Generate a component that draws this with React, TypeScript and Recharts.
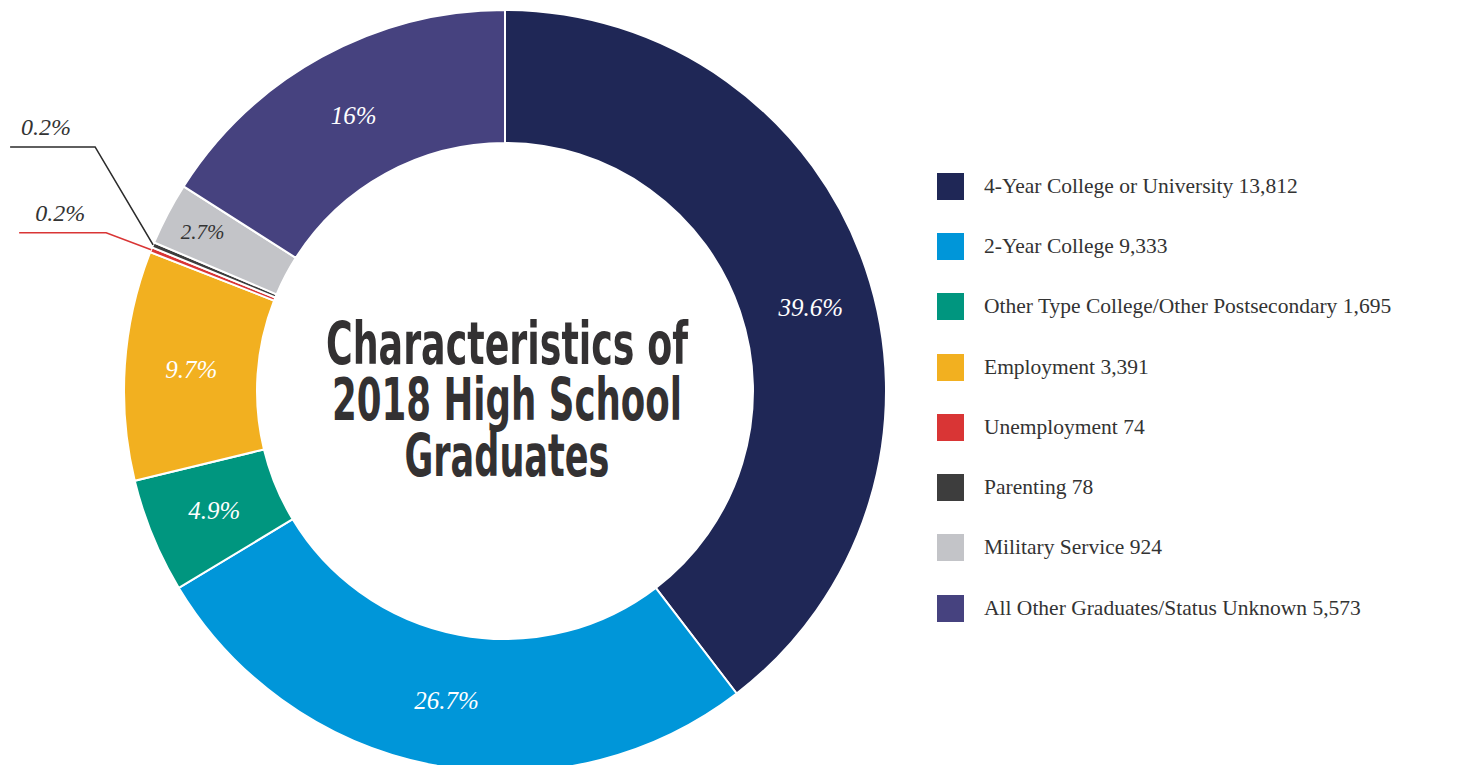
import { PieChart, Pie, Cell, Legend } from "recharts";

const categories = [
  "4-Year College or University",
  "2-Year College",
  "Other Type College/Other Postsecondary",
  "Employment",
  "Unemployment",
  "Parenting",
  "Military Service",
  "All Other Graduates/Status Unknown",
];
const counts = [13812, 9333, 1695, 3391, 74, 78, 924, 5573];
const pctLabels = ["39.6%", "26.7%", "4.9%", "9.7%", "0.2%", "0.2%", "2.7%", "16%"];
const colors = ["#1f2756", "#0096d9", "#00967f", "#f2b020", "#d93535", "#3d3d3d", "#c3c4c8", "#46427f"];
const titleLines = ["Characteristics of", "2018 High School", "Graduates"];

const data = categories.map((name, i) => ({ name, value: counts[i] }));

const RAD = Math.PI / 180;
const serif = "'Liberation Serif', 'DejaVu Serif', serif";

// small hand nudges for a couple of in-ring labels
const nudge: Record<number, [number, number]> = { 0: [8, 17], 6: [-24, -13] };
// leader lines for the tiny slices
const leaders: Record<number, { ex: number; ey: number; run: number; tx: number; line: string }> = {
  4: { ex: -45, ey: -17, run: 87, tx: 16, line: "#d93535" },
  5: { ex: -58, ey: -98, run: 85, tx: 11, line: "#2b2b2b" },
};

function CenterTitle({ cx, cy }: { cx: number; cy: number }) {
  const widths = [362, 350, 205];
  const squeeze = 0.66;
  return (
    <g>
      {titleLines.map((t, i) => (
        <text
          key={t}
          x={0}
          y={0}
          transform={`translate(${cx + 2},${cy - 27 + i * 56}) scale(${squeeze},1)`}
          textAnchor="middle"
          fill="#333132"
          fontFamily="'DejaVu Sans Condensed', 'Liberation Sans Narrow', Roboto, sans-serif"
          fontWeight={700}
          fontSize={58}
          textLength={widths[i] / squeeze}
          lengthAdjust="spacingAndGlyphs"
        >
          {t}
        </text>
      ))}
    </g>
  );
}

function renderLabel(props: any) {
  const { cx, cy, midAngle, innerRadius, outerRadius, index } = props;
  const cos = Math.cos(-midAngle * RAD);
  const sin = Math.sin(-midAngle * RAD);
  const lead = leaders[index];
  if (lead) {
    const sx = cx + outerRadius * cos;
    const sy = cy + outerRadius * sin;
    const mx = sx + lead.ex;
    const my = sy + lead.ey;
    const endX = mx - lead.run;
    return (
      <g>
        <polyline
          points={`${sx},${sy} ${mx},${my} ${endX},${my}`}
          fill="none"
          stroke={lead.line}
          strokeWidth={1.6}
        />
        <text x={endX + lead.tx} y={my - 12} fill="#333" fontFamily={serif} fontStyle="italic" fontSize={24}>
          {pctLabels[index]}
        </text>
      </g>
    );
  }
  const r = (innerRadius + outerRadius) / 2;
  const [dx, dy] = nudge[index] || [0, 0];
  const x = cx + r * cos + dx;
  const y = cy + r * sin + dy;
  const dark = index === 6;
  return (
    <g>
      {index === 0 && <CenterTitle cx={cx} cy={cy} />}
      <text
        x={x}
        y={y}
        fill={dark ? "#333" : "#fff"}
        textAnchor="middle"
        dominantBaseline="central"
        fontFamily={serif}
        fontStyle="italic"
        fontSize={dark ? 21 : 25}
      >
        {pctLabels[index]}
      </text>
    </g>
  );
}

function LegendList() {
  return (
    <div style={{ fontFamily: serif, fontSize: 21.5, color: "#333" }}>
      {categories.map((c, i) => (
        <div key={c} style={{ display: "flex", alignItems: "center", height: 60.3 }}>
          <span style={{ width: 27, height: 27, background: colors[i], display: "inline-block", marginRight: 20, flexShrink: 0 }} />
          <span style={{ whiteSpace: "nowrap" }}>
            {c} {counts[i].toLocaleString("en-US")}
          </span>
        </div>
      ))}
    </div>
  );
}

export default function App() {
  return (
    <div style={{ position: "absolute", left: 0, top: 0, background: "#fff" }}>
      <PieChart width={1461} height={765} margin={{ top: 0, right: 0, bottom: 0, left: 0 }}>
        <Pie
          data={data}
          dataKey="value"
          nameKey="name"
          cx={505}
          cy={391}
          innerRadius={248}
          outerRadius={381}
          startAngle={90}
          endAngle={-270}
          stroke="#fff"
          strokeWidth={2}
          label={renderLabel}
          labelLine={false}
          isAnimationActive={false}
        >
          {data.map((d, i) => (
            <Cell key={d.name} fill={colors[i]} />
          ))}
        </Pie>
        <Legend
          layout="vertical"
          align="right"
          verticalAlign="top"
          content={LegendList}
          wrapperStyle={{ top: 156, left: 937, right: "auto", width: 524 }}
        />
      </PieChart>
    </div>
  );
}
